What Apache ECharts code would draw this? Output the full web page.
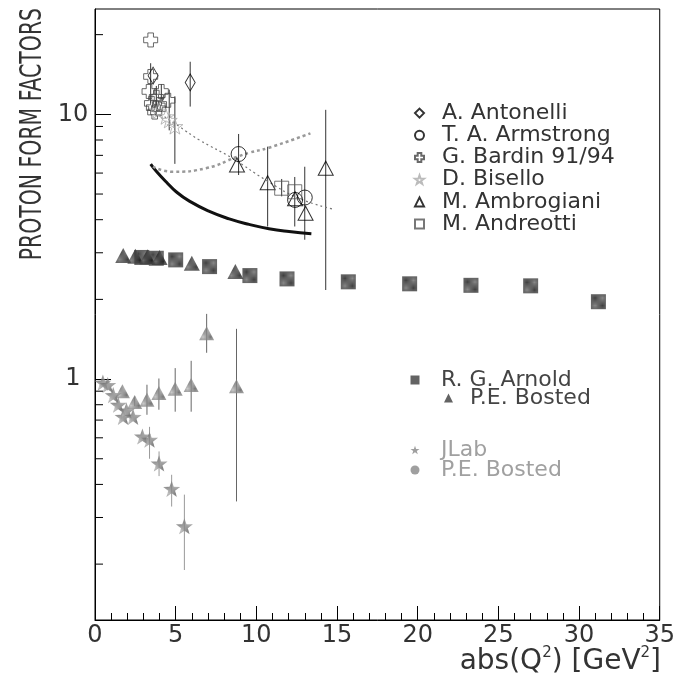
<!DOCTYPE html>
<html>
<head>
<meta charset="utf-8">
<script src="https://cdn.jsdelivr.net/npm/echarts@6/dist/echarts.min.js"></script>
<style>
  html, body { margin: 0; padding: 0; background: #fff; }
  #chart { width: 678px; height: 682px; }
</style>
</head>
<body>
<div id="chart"></div>
<script>
/*
 * proton form factors, time-like and space-like
 */
var xTicks = [0, 5, 10, 15, 20, 25, 30, 35];
var yMinorTicks = [0.2, 0.3, 0.4, 0.5, 0.6, 0.7, 0.8, 0.9, 2, 3, 4, 5, 6, 7, 8, 9, 20];

// space-like, |GM|
var arnoldX = [2.9, 3.8, 5.0, 7.1, 9.6, 11.9, 15.7, 19.5, 23.3, 27.0, 31.2];
var arnoldY = [2.88, 2.86, 2.82, 2.66, 2.46, 2.39, 2.33, 2.29, 2.26, 2.25, 1.96];
var bostedX = [1.75, 2.5, 3.25, 4.0, 6.0, 8.7];
var bostedY = [2.93, 2.91, 2.90, 2.88, 2.74, 2.55];

// ratio
var bostedRX = [1.7, 2.46, 3.22, 3.96, 4.97, 5.96, 6.92, 8.77];
var bostedRY = [0.90, 0.82, 0.835, 0.885, 0.92, 0.95, 1.49, 0.94];
var bostedRErrX = [2.46, 3.22, 3.96, 4.97, 5.96, 6.92, 8.77];
var bostedRErrLo = [0.79, 0.733, 0.766, 0.753, 0.753, 1.257, 0.345];
var bostedRErrHi = [0.86, 0.952, 1.005, 1.10, 1.172, 1.763, 1.548];
var jlabX = [0.49, 0.79, 1.13, 1.44, 1.74, 1.95, 2.36, 2.94, 3.38, 3.97, 4.75, 5.54];
var jlabY = [0.97, 0.95, 0.87, 0.80, 0.72, 0.76, 0.72, 0.607, 0.59, 0.48, 0.385, 0.278];
var jlabErrX = [3.38, 3.97, 4.75, 5.54];
var jlabErrLo = [0.50, 0.43, 0.33, 0.19];
var jlabErrHi = [0.66, 0.533, 0.435, 0.366];

// time-like
var antonelliX = [3.6, 5.9];
var antonelliY = [14.0, 13.2];
var armstrongX = [8.9, 12.4, 13.0];
var armstrongY = [7.08, 4.75, 4.85];
var bardinX = [3.45, 3.45, 3.35, 3.50, 3.62, 3.80, 3.70, 3.95, 4.11, 4.0, 4.52];
var bardinY = [19.1, 13.9, 12.2, 11.0, 10.6, 11.6, 10.2, 10.5, 12.2, 10.9, 11.3];
var biselloX = [3.9, 4.4, 4.6, 4.95];
var biselloY = [10.3, 9.8, 9.5, 9.0];
var ambrogianiX = [8.8, 10.7, 12.4, 13.05, 14.3];
var ambrogianiY = [6.44, 5.52, 4.8, 4.23, 6.26];
var andreottiX = [11.57, 12.38];
var andreottiY = [5.26, 5.1];

var timeErrX = [5.9, 3.45, 3.8, 4.11, 4.6, 4.95, 8.9, 10.7, 11.57, 12.38, 13.0, 14.3];
var timeErrLo = [10.7, 11.0, 10.6, 11.4, 8.7, 6.5, 5.9, 3.77, 4.9, 3.77, 3.36, 2.17];
var timeErrHi = [15.8, 15.6, 12.8, 13.0, 12.4, 11.7, 8.43, 7.55, 5.7, 5.8, 6.34, 10.4];

// curves
var fitSolidX = [3.45, 3.8, 4.42, 5.03, 5.85, 7.09, 8.32, 9.55, 10.78, 12.02, 13.41];
var fitSolidY = [6.49, 6.1, 5.55, 5.1, 4.7, 4.3, 4.03, 3.84, 3.70, 3.61, 3.54];
var fitDotX = [4.31, 5.24, 6.47, 8.52, 10.58, 12.63, 14.79];
var fitDotY = [9.8, 8.98, 8.0, 6.82, 5.65, 4.82, 4.38];
var fitDashX = [3.59, 4.82, 6.88, 8.83, 9.55, 10.78, 13.35];
var fitDashY = [6.34, 6.07, 6.26, 6.92, 7.16, 7.48, 8.48];

var FONT = "'DejaVu Sans', sans-serif";
var starPath = 'path://M10,0L12.35,6.76L19.51,6.91L13.8,11.24L15.88,18.09L10,14L4.12,18.09L6.2,11.24L0.49,6.91L7.65,6.76Z';
var crossPath = 'path://M3,0H7V3H10V7H7V10H3V7H0V3H3Z';

function pairs(xs, ys) {
    return xs.map(function (x, i) { return [x, ys[i]]; });
}
function bars(xs, lo, hi) {
    return xs.map(function (x, i) { return [x, lo[i], hi[i]]; });
}
function hatch(fg, bg) {
    var c = document.createElement('canvas');
    c.width = 4; c.height = 4;
    var g = c.getContext('2d');
    g.fillStyle = bg;
    g.fillRect(0, 0, 4, 4);
    g.fillStyle = fg;
    for (var x = 0; x < 4; x++) {
        for (var y = 0; y < 4; y++) {
            if ((x + y) % 2 === 0) g.fillRect(x, y, 1, 1);
        }
    }
    return { image: c, repeat: 'repeat' };
}
var darkHatch = hatch('#111', '#6a6a6a');
var lightHatch = hatch('#555', '#bbb');

function open(col) {
    return { color: 'rgba(0,0,0,0)', borderColor: col, borderWidth: 1 };
}
function errorBars(data, col) {
    return {
        type: 'custom',
        silent: true,
        z: 1,
        encode: { x: 0, y: [1, 2] },
        data: data,
        renderItem: function (params, api) {
            var a = api.coord([api.value(0), api.value(1)]);
            var b = api.coord([api.value(0), api.value(2)]);
            return {
                type: 'line',
                shape: { x1: a[0], y1: a[1], x2: b[0], y2: b[1] },
                style: { stroke: col, lineWidth: 1 }
            };
        }
    };
}
function curve(xs, ys, style) {
    return {
        type: 'line',
        silent: true,
        z: 1,
        smooth: true,
        showSymbol: false,
        symbol: 'none',
        data: pairs(xs, ys),
        lineStyle: style
    };
}
function marker(name, sym, size, style, xs, ys) {
    return {
        name: name,
        type: 'scatter',
        z: 3,
        symbol: sym,
        symbolSize: size,
        symbolKeepAspect: true,
        itemStyle: style,
        data: pairs(xs, ys)
    };
}

var legendNames = {
    'Bosted GM': 'P.E. Bosted',
    'Bosted GE': 'P.E. Bosted'
};
// icon is a 9px box at `left`, the text begins at left + 14 + pad
function legendBox(names, left, top, pad, col, lh, gap) {
    return {
        data: names,
        orient: 'vertical',
        left: left,
        top: top,
        padding: 0,
        itemGap: gap,
        itemWidth: 9,
        itemHeight: 9,
        selectedMode: false,
        formatter: function (n) { return legendNames[n] || n; },
        textStyle: {
            fontFamily: FONT, fontSize: 22, color: col, lineHeight: lh,
            padding: [0, 0, 0, pad]
        }
    };
}

var chart = echarts.init(document.getElementById('chart'), null, { renderer: 'canvas' });

var option = {
    animation: false,
    backgroundColor: '#fff',
    grid: {
        left: 95, right: 15, top: 9, bottom: 62,
        show: true, borderColor: '#000', borderWidth: 1, backgroundColor: 'transparent'
    },
    title: {
        text: '{a|abs(Q}{s|2}{a|) [GeV}{s|2}{a|]}',
        right: 17,
        top: 646,
        padding: 0,
        textStyle: {
            fontWeight: 'normal',
            rich: {
                a: { fontFamily: FONT, fontSize: 28, fontWeight: 'normal', color: '#333', lineHeight: 32 },
                s: { fontFamily: FONT, fontSize: 15, fontWeight: 'normal', color: '#333', verticalAlign: 'top', lineHeight: 19 }
            }
        }
    },
    graphic: [{
        type: 'text',
        x: 33,
        y: 8,
        rotation: Math.PI / 2,
        scaleX: 0.68,
        style: {
            text: 'PROTON FORM FACTORS',
            font: '30px ' + FONT,
            fill: '#333',
            align: 'right',
            verticalAlign: 'middle'
        }
    }],
    legend: [
        legendBox(['A. Antonelli', 'T. A. Armstrong', 'G. Bardin 91/94', 'D. Bisello', 'M. Ambrogiani', 'M. Andreotti'],
            414, 102, 13, '#333', 22.2, 0),
        legendBox(['R. G. Arnold'], 410.5, 369, 16.5, '#444', 18, 0),
        legendBox(['Bosted GM'], 444, 387, 12, '#444', 18, 0),
        legendBox(['JLab', 'Bosted GE'], 410.5, 439, 16.5, '#a0a0a0', 18, -2)
    ],
    xAxis: {
        type: 'value',
        min: xTicks[0],
        max: xTicks[xTicks.length - 1],
        interval: 5,
        axisLine: { lineStyle: { color: '#000', width: 1 } },
        axisTick: { inside: true, length: 14, lineStyle: { color: '#000' } },
        minorTick: { show: true, splitNumber: 5, length: 7, lineStyle: { color: '#000' } },
        splitLine: { show: false },
        axisLabel: { fontFamily: FONT, fontSize: 24, color: '#333', margin: 4 }
    },
    yAxis: {
        type: 'log',
        logBase: 10,
        min: 0.123,
        max: 25,
        axisLine: { show: true, lineStyle: { color: '#000', width: 1 } },
        axisTick: { inside: true, length: 16, lineStyle: { color: '#000' } },
        splitLine: { show: false },
        axisLabel: {
            fontFamily: FONT, fontSize: 24, color: '#333', margin: 22, align: 'center',
            showMinLabel: false, showMaxLabel: false,
            formatter: function (v) { return String(v); }
        }
    },
    series: [
        {
            type: 'custom',
            silent: true,
            z: 2,
            encode: { x: 0, y: 1 },
            data: yMinorTicks.map(function (v) { return [xTicks[0], v]; }),
            renderItem: function (params, api) {
                var p = api.coord([api.value(0), api.value(1)]);
                return {
                    type: 'line',
                    shape: { x1: p[0], y1: p[1], x2: p[0] + 8, y2: p[1] },
                    style: { stroke: '#000', lineWidth: 1 }
                };
            }
        },
        curve(fitSolidX, fitSolidY, { color: '#111', width: 3 }),
        curve(fitDotX, fitDotY, { color: '#777', width: 1.2, type: [2, 3] }),
        curve(fitDashX, fitDashY, { color: '#999', width: 2.5, type: [3, 3] }),
        errorBars(bars(timeErrX, timeErrLo, timeErrHi), '#333'),
        errorBars(bars(bostedRErrX, bostedRErrLo, bostedRErrHi), '#666'),
        errorBars(bars(jlabErrX, jlabErrLo, jlabErrHi), '#999'),
        marker('R. G. Arnold', 'rect', 15, { color: darkHatch }, arnoldX, arnoldY),
        marker('Bosted GM', 'triangle', [16, 15], { color: darkHatch }, bostedX, bostedY),
        marker('Bosted ratio', 'triangle', [15, 14], { color: lightHatch }, bostedRX, bostedRY),
        marker('JLab', starPath, 17, { color: lightHatch }, jlabX, jlabY),
        marker('Bosted GE', 'circle', 12, { color: lightHatch }, [], []),
        marker('A. Antonelli', 'diamond', [10, 17], open('#000'), antonelliX, antonelliY),
        marker('T. A. Armstrong', 'circle', 15, open('#000'), armstrongX, armstrongY),
        marker('G. Bardin 91/94', crossPath, 14, open('#444'), bardinX, bardinY),
        marker('D. Bisello', starPath, 16, open('#aaa'), biselloX, biselloY),
        marker('M. Ambrogiani', 'triangle', [15, 14], open('#000'), ambrogianiX, ambrogianiY),
        marker('M. Andreotti', 'rect', 14, open('#555'), andreottiX, andreottiY)
    ]
};
chart.setOption(option);
</script>
</body>
</html>
